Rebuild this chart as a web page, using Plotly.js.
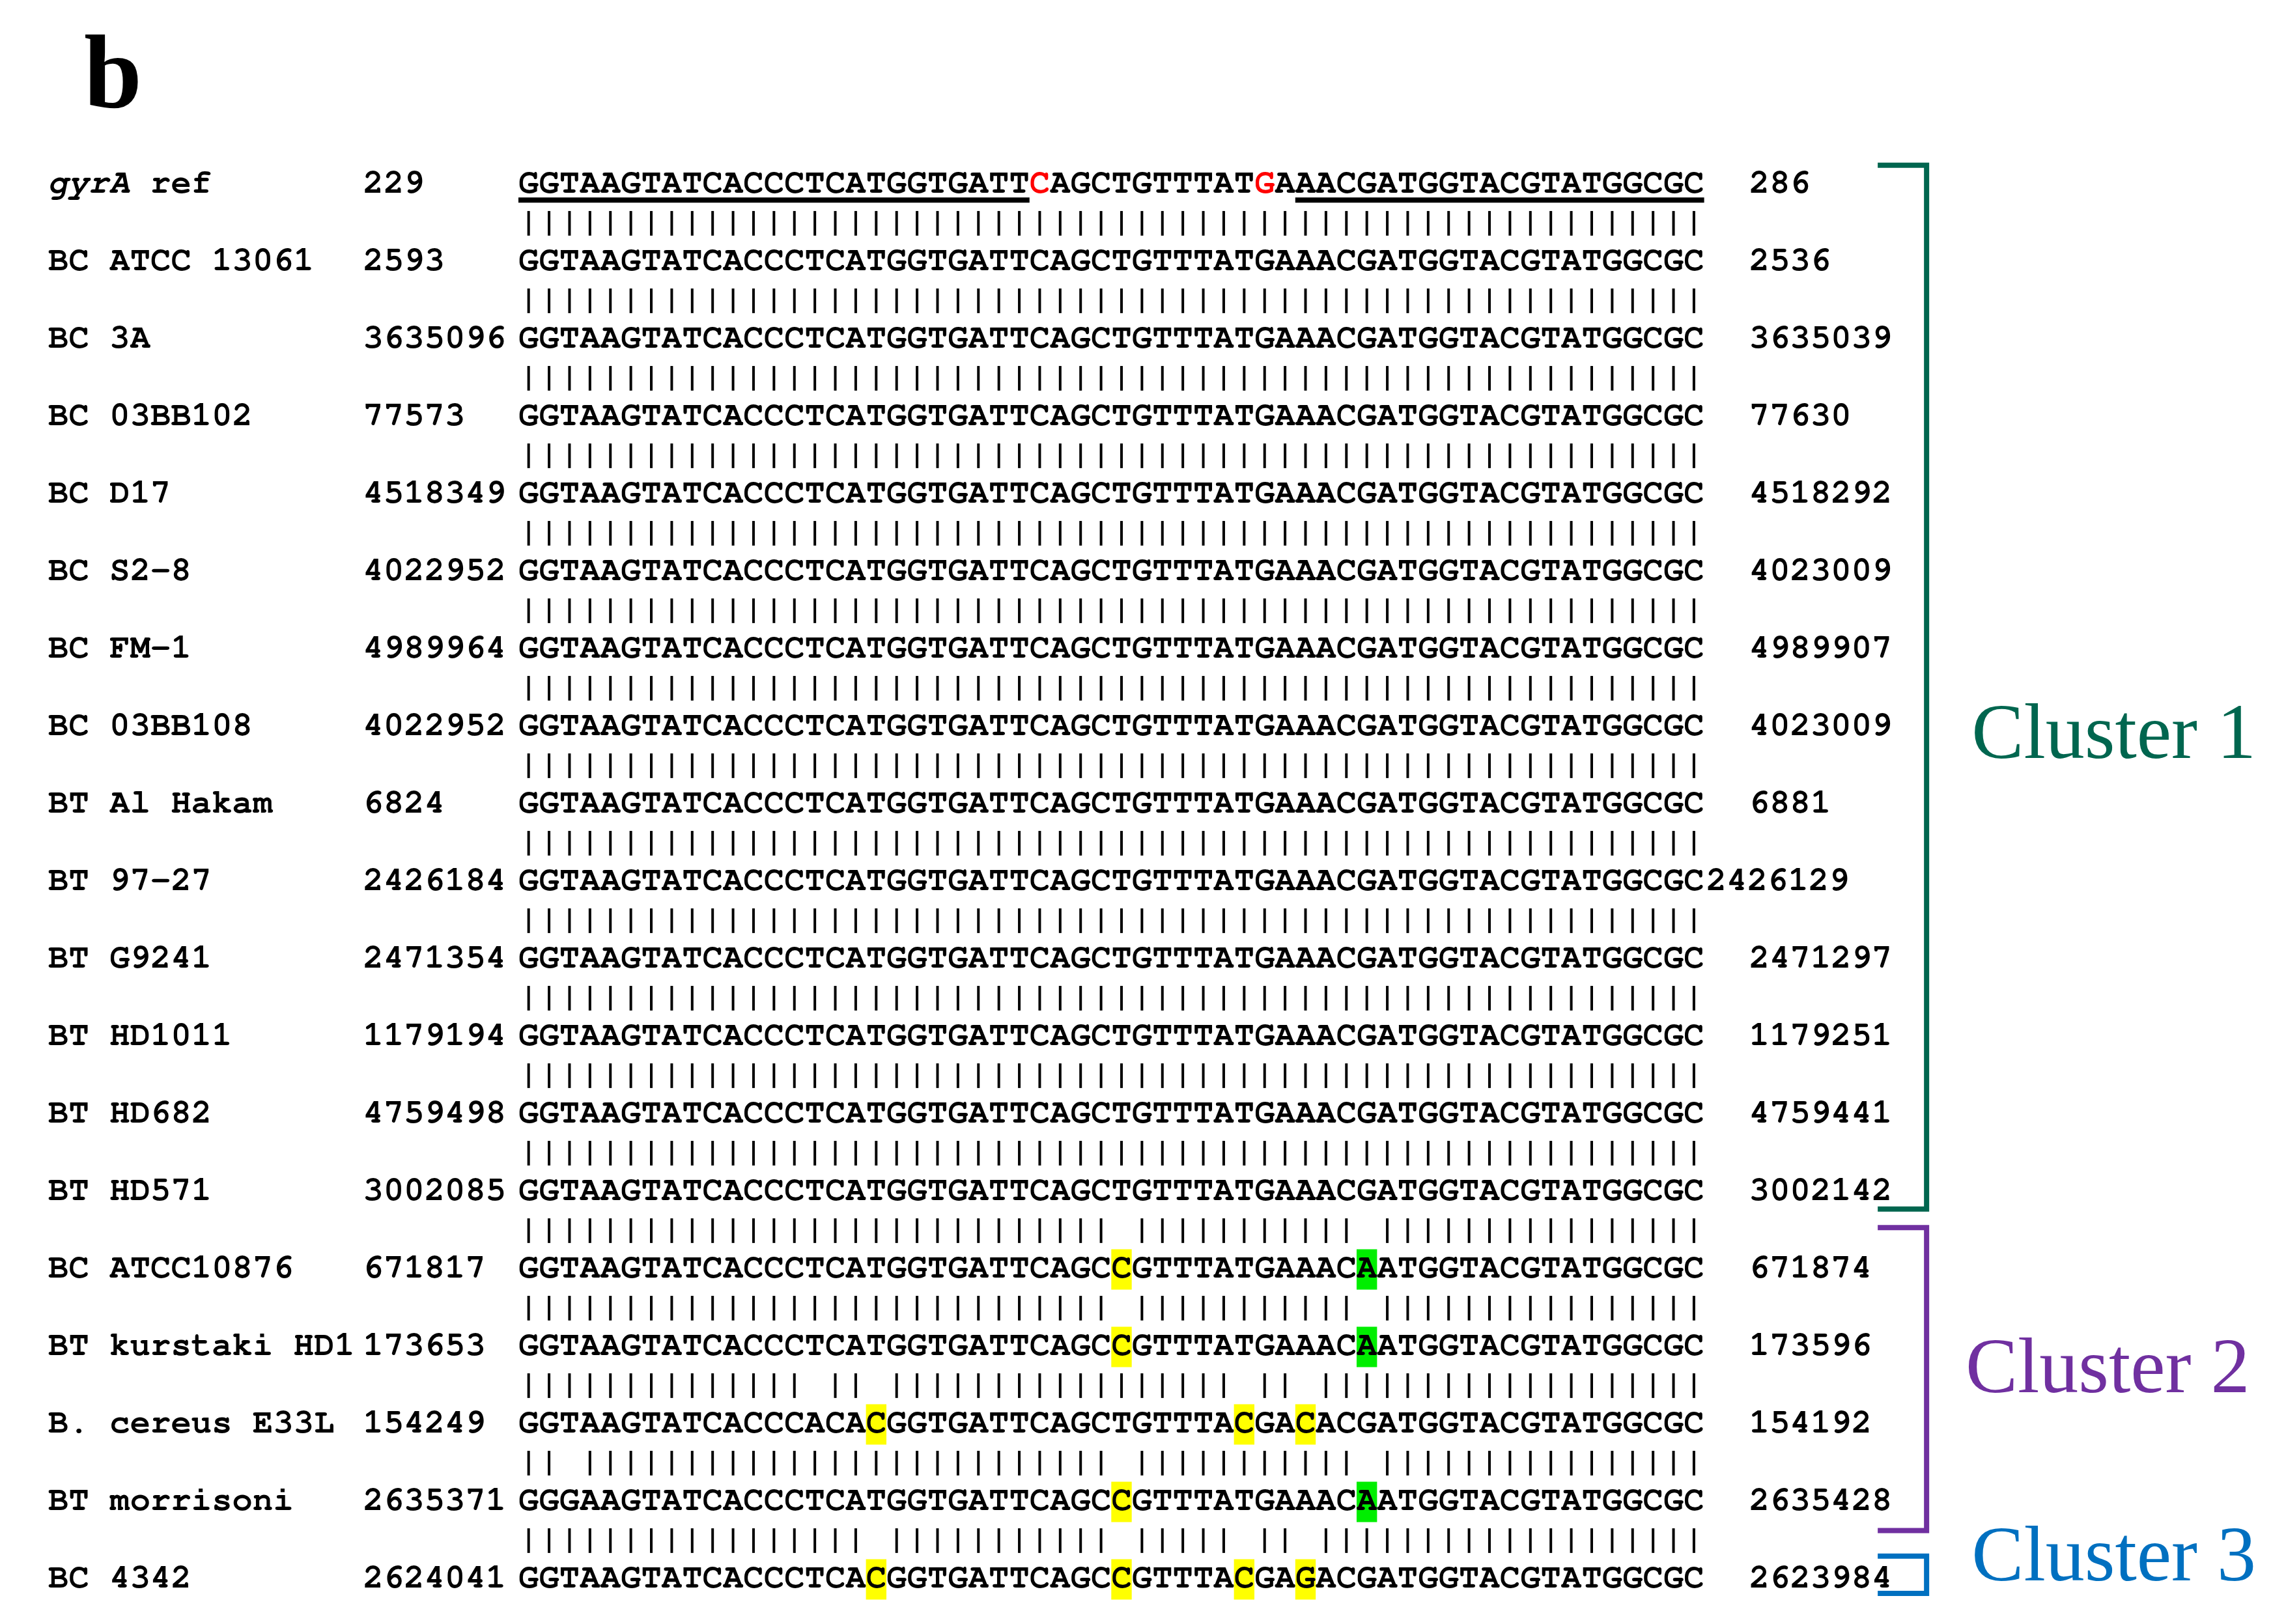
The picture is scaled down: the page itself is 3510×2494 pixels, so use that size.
<!DOCTYPE html>
<html>
<head>
<meta charset="utf-8">
<script src="https://cdn.plot.ly/plotly-3.0.1.min.js"></script>
<style>html,body{margin:0;padding:0;background:#fff}</style>
</head>
<body>
<div id="chart" style="width:3510px;height:2494px"></div>
<script>
// strains as listed in the alignment, top to bottom
const strains = ['gyrA ref', 'BC ATCC 13061', 'BC 3A', 'BC 03BB102', 'BC D17', 'BC S2-8', 'BC FM-1',
    'BC 03BB108', 'BT Al Hakam', 'BT 97-27', 'BT G9241', 'BT HD1011', 'BT HD682', 'BT HD571',
    'BC ATCC10876', 'BT kurstaki HD1', 'B. cereus E33L', 'BT morrisoni', 'BC 4342']
const startPos = [229, 2593, 3635096, 77573, 4518349, 4022952, 4989964, 4022952, 6824, 2426184,
    2471354, 1179194, 4759498, 3002085, 671817, 173653, 154249, 2635371, 2624041]
const endPos = [286, 2536, 3635039, 77630, 4518292, 4023009, 4989907, 4023009, 6881, 2426129,
    2471297, 1179251, 4759441, 3002142, 671874, 173596, 154192, 2635428, 2623984]

const refSeq = 'GGTAAGTATCACCCTCATGGTGATTCAGCTGTTTATGAAACGATGGTACGTATGGCGC'
const seqs = [
    refSeq, refSeq, refSeq, refSeq, refSeq, refSeq, refSeq, refSeq, refSeq, refSeq, refSeq, refSeq, refSeq, refSeq,
    'GGTAAGTATCACCCTCATGGTGATTCAGCCGTTTATGAAACAATGGTACGTATGGCGC',
    'GGTAAGTATCACCCTCATGGTGATTCAGCCGTTTATGAAACAATGGTACGTATGGCGC',
    'GGTAAGTATCACCCACACGGTGATTCAGCTGTTTACGACACGATGGTACGTATGGCGC',
    'GGGAAGTATCACCCTCATGGTGATTCAGCCGTTTATGAAACAATGGTACGTATGGCGC',
    'GGTAAGTATCACCCTCACGGTGATTCAGCCGTTTACGAGACGATGGTACGTATGGCGC'
]
// 97-27 end coordinate is printed flush against the sequence
const flushEnd = [9]

// positions (1-based) in the reference
const snpSites = [26, 37]
const primerSpans = [[1, 25], [39, 58]]
// [row, position]
const yellowHits = [[14, 30], [15, 30], [16, 18], [16, 36], [16, 39], [17, 30],
    [18, 18], [18, 30], [18, 36], [18, 39]]
const greenHits = [[14, 42], [15, 42], [17, 42]]

const clusterNames = ['Cluster 1', 'Cluster 2', 'Cluster 3']
const clusterRows = [[0, 13], [14, 17], [18, 18]]

// column layout (monospace cells)
const NUM_COL = 15.4
const SEQ_COL = 23
const END_GAP = 2.2
const mono = 'Nimbus Mono PS, FreeMono, Courier New, Liberation Mono, monospace'
const serif = 'Liberation Serif, Times New Roman, serif'
const clusterColors = ['#00664f', '#7030a0', '#0070c0']
// bracket overhang and label placement, in row / column units
const bracketTop = [-0.25, -0.54, -0.3]
const bracketBot = [0.22, 0.37, 0.18]
const labelY = [7.15, 15.33, 17.76]
const labelX = [101.04, 100.74, 101.04]

const blackTxt = { x: [], y: [], text: [] }
const redTxt = { x: [], y: [], text: [] }

function put(target, col, row, s) {
    for (let i = 0; i < s.length; i++) {
        if (s[i] === ' ') continue
        target.x.push(col + i + 0.5)
        target.y.push(row)
        target.text.push(s[i])
    }
}

strains.forEach((name, r) => {
    if (r === 0) {
        // italic gene name
        for (let i = 0; i < name.length; i++) {
            if (name[i] === ' ') continue
            blackTxt.x.push(i + 0.5)
            blackTxt.y.push(r)
            blackTxt.text.push(i < 4 ? '<i>' + name[i] + '</i>' : name[i])
        }
    } else {
        put(blackTxt, 0, r, name)
    }
    put(blackTxt, NUM_COL, r, String(startPos[r]))
    const s = seqs[r]
    for (let i = 0; i < s.length; i++) {
        const tgt = (r === 0 && snpSites.includes(i + 1)) ? redTxt : blackTxt
        tgt.x.push(SEQ_COL + i + 0.5)
        tgt.y.push(r)
        tgt.text.push(s[i])
    }
    const gap = flushEnd.includes(r) ? 0.1 : END_GAP
    put(blackTxt, SEQ_COL + s.length + gap, r, String(endPos[r]))
})

// match bars: each row compared with the reference
const barX = [], barY = []
for (let r = 1; r < seqs.length; r++) {
    for (let i = 0; i < refSeq.length; i++) {
        if (seqs[r][i] === refSeq[i]) {
            barX.push(SEQ_COL + i + 0.5)
            barY.push(r - 0.5)
        }
    }
}

function hitTrace(hits, color) {
    return {
        type: 'bar',
        x: hits.map(h => SEQ_COL + h[1] - 0.5),
        y: hits.map(() => 0.52),
        base: hits.map(h => h[0] - 0.26),
        width: 1,
        marker: { color: color, line: { width: 0 } },
        hoverinfo: 'skip'
    }
}

const ulX = [], ulY = []
primerSpans.forEach(sp => {
    ulX.push(SEQ_COL + sp[0] - 1, SEQ_COL + sp[1], null)
    ulY.push(0.2, 0.2, null)
})

const traces = [
    hitTrace(yellowHits, '#ffff00'),
    hitTrace(greenHits, '#00ee00'),
    {
        type: 'scatter', mode: 'lines', x: ulX, y: ulY,
        line: { color: '#000', width: 8 }, hoverinfo: 'skip'
    },
    {
        type: 'scatter', mode: 'markers', x: barX, y: barY,
        marker: { symbol: 'line-ns', size: 27, line: { color: '#000', width: 4 } },
        hoverinfo: 'skip'
    },
    {
        type: 'scatter', mode: 'text', x: blackTxt.x, y: blackTxt.y, text: blackTxt.text,
        textposition: 'middle center',
        textfont: { family: mono, size: 52, color: '#000', weight: 'bold' },
        hoverinfo: 'skip'
    },
    {
        type: 'scatter', mode: 'text', x: redTxt.x, y: redTxt.y, text: redTxt.text,
        textposition: 'middle center',
        textfont: { family: mono, size: 52, color: '#ff0000', weight: 'bold' },
        hoverinfo: 'skip'
    }
]

const ARM = 89.49, VERT = 91.88
clusterRows.forEach((cr, k) => {
    const top = cr[0] + bracketTop[k], bot = cr[1] + bracketBot[k]
    traces.push({
        type: 'scatter', mode: 'lines',
        x: [ARM, VERT, VERT, ARM], y: [top, top, bot, bot],
        line: { color: clusterColors[k], width: 8 }, hoverinfo: 'skip'
    })
    traces.push({
        type: 'scatter', mode: 'text', x: [labelX[k]], y: [labelY[k]], text: [clusterNames[k]],
        textposition: 'middle center',
        textfont: { family: serif, size: 120, color: clusterColors[k] },
        hoverinfo: 'skip'
    })
})

const layout = {
    width: 3510,
    height: 2494,
    margin: { l: 0, r: 0, t: 0, b: 0 },
    paper_bgcolor: '#fff',
    plot_bgcolor: '#fff',
    showlegend: false,
    barmode: 'overlay',
    xaxis: { range: [-2.357, 109.46], visible: false, fixedrange: true },
    yaxis: { range: [18.576, -2.382], visible: false, fixedrange: true },
    annotations: [{
        x: 1.7, y: -1.45, xref: 'x', yref: 'y', xanchor: 'left', yanchor: 'middle',
        text: '<b>b</b>', showarrow: false,
        font: { family: serif, size: 160, color: '#000' }
    }]
}

Plotly.newPlot('chart', traces, layout, { staticPlot: true, displayModeBar: false })
</script>
</body>
</html>
